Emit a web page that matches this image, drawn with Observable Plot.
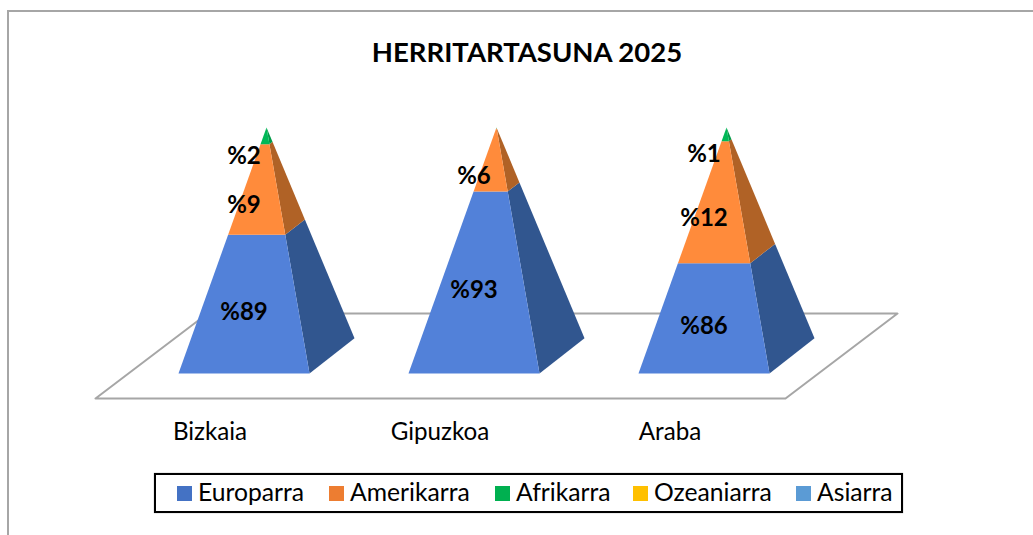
<!DOCTYPE html>
<html>
<head>
<meta charset="utf-8">
<script src="https://cdn.jsdelivr.net/npm/d3@7"></script>
<script src="https://cdn.jsdelivr.net/npm/@observablehq/plot@0.6"></script>
<style>
  html, body { margin: 0; padding: 0; background: #fff; }
  body { width: 1033px; height: 535px; overflow: hidden; position: relative; font-family: Lato, "Open Sans", sans-serif; color: #000; }
  #frame { position: absolute; left: 7px; top: 10px; width: 1040px; height: 540px; border-left: 2px solid #a6a6a6; border-top: 2px solid #a6a6a6; box-sizing: border-box; }
  #title { position: relative; height: 80px; line-height: 104px; padding-left: 21px; text-align: center; font-size: 27.5px; font-weight: 700; }
  #chart { position: relative; height: 393px; }
  #chart svg { display: block; background: transparent; overflow: visible; }
  #legend { position: relative; margin-left: 154px; width: 749px; height: 40px; box-sizing: border-box; border: 2px solid #000; background: #fff; display: flex; align-items: center; padding-left: 21px; font-size: 24.7px; box-shadow: 0 0 1px #888; }
  .item { display: flex; align-items: center; flex: none; white-space: nowrap; }
  .sw { width: 15px; height: 15px; margin-right: 6px; flex: none; }
  .item span { position: relative; top: -2px; }
</style>
</head>
<body>
<div id="frame"></div>
<div id="title">HERRITARTASUNA 2025</div>
<div id="chart"></div>
<div id="legend"></div>
<script>
// Data (percent of each province)
const provinces = ["Bizkaia", "Gipuzkoa", "Araba"];
const europarra = [89.1, 93.49, 86.2];
const amerikarra = [9.2, 6.4, 12.4];
const afrikarra = [1.7, 0.11, 1.4];
const ozeaniarra = [0, 0, 0];
const asiarra = [0, 0, 0];

const seriesNames = ["Europarra", "Amerikarra", "Afrikarra", "Ozeaniarra", "Asiarra"];
const seriesValues = [europarra, amerikarra, afrikarra, ozeaniarra, asiarra];
const legendColors = ["#4472c4", "#ed7d31", "#00b050", "#ffc000", "#5b9bd5"];
const frontColors = ["#5281d9", "#ff8b3b", "#00b857", "#ffc000", "#5b9bd5"];
const sideColors = ["#31568f", "#b06226", "#009a47", "#b08400", "#3f6c94"];
const labelDy = [8, 16, 20, 0, 0];

// Pyramid geometry in data units: x = province index, y = percent on an axis starting at 75
const yMin = 75, yMax = 100;
const halfW = 0.2848, depthX = 0.1957, depthY = 3.57;
const pxX = 230, pxY = 9.84, cx0 = 243.5, base = 293, W = 1033, H = 393;

const lerp = (a, b, t) => a + (b - a) * t;
const levelPoint = (i, corner, v) => {
  const apexX = i + depthX / 2;
  const t = (v - yMin) / (yMax - yMin);
  const c = corner === "FL" ? [i - halfW, yMin] : corner === "FR" ? [i + halfW, yMin] : [i + halfW + depthX, yMin + depthY];
  return {x: lerp(c[0], apexX, t), y: lerp(c[1], yMax, t)};
};

const polys = [];
const labels = [];
provinces.forEach((p, i) => {
  let cum = 0;
  seriesValues.forEach((vals, s) => {
    const v = vals[i];
    if (v <= 0) return;
    const lo = Math.max(cum, yMin), hi = Math.min(cum + v, yMax);
    const mid = (lo + hi) / 2;
    cum += v;
    const add = (face, fill, pts) => pts.forEach(q => polys.push({id: `${p}-${s}-${face}`, fill, ...q}));
    add("side", sideColors[s], [levelPoint(i, "FR", lo), levelPoint(i, "BR", lo), levelPoint(i, "BR", hi), levelPoint(i, "FR", hi)]);
    add("front", frontColors[s], [levelPoint(i, "FL", lo), levelPoint(i, "FR", lo), levelPoint(i, "FR", hi), levelPoint(i, "FL", hi)]);
    if (Math.round(v) > 0) labels.push({x: i, y: mid, dy: labelDy[s], text: "%" + Math.round(v)});
  });
});

// Floor plane below the pyramids
const floorDrop = 25 / pxY;
const floor = [
  {x: -(148.5) / pxX, y: yMin - floorDrop},
  {x: 541.5 / pxX, y: yMin - floorDrop},
  {x: 653.5 / pxX, y: yMin + 60 / pxY},
  {x: -36.5 / pxX, y: yMin + 60 / pxY},
  {x: -(148.5) / pxX, y: yMin - floorDrop}
];

const labelMark = dy => Plot.text(labels.filter(d => d.dy === dy), {x: "x", y: "y", text: "text", dy, fontSize: 24, fontWeight: 700, fill: "#000", fontFamily: "Lato"});

const chart = Plot.plot({
  width: W, height: H,
  marginTop: 0, marginBottom: 0, marginLeft: 0, marginRight: 0,
  x: {domain: [-cx0 / pxX, (W - cx0) / pxX], range: [0, W], axis: null},
  y: {domain: [yMin - (H - base) / pxY, yMin + base / pxY], range: [H, 0], axis: null},
  marks: [
    Plot.line(floor, {x: "x", y: "y", stroke: "#a6a6a6", strokeWidth: 2, fill: "#fff", curve: "linear"}),
    Plot.line(polys, {x: "x", y: "y", z: "id", fill: "fill", stroke: null, curve: "linear"}),
    labelMark(labelDy[0]),
    labelMark(labelDy[1]),
    labelMark(labelDy[2]),
    Plot.text(provinces.map((p, i) => ({p, i})), {x: d => d.i - 34 / pxX, y: yMin - 59 / pxY, text: "p", fontSize: 24.2, fill: "#000", fontFamily: "Lato"})
  ]
});
document.getElementById("chart").appendChild(chart);

const legend = document.getElementById("legend");
const itemWidths = [152, 166, 138, 163, 100];
seriesNames.forEach((name, i) => {
  const el = document.createElement("div");
  el.className = "item";
  el.style.width = itemWidths[i] + "px";
  const sw = document.createElement("div");
  sw.className = "sw";
  sw.style.background = legendColors[i];
  const t = document.createElement("span");
  t.textContent = name;
  el.append(sw, t);
  legend.appendChild(el);
});
</script>
</body>
</html>
